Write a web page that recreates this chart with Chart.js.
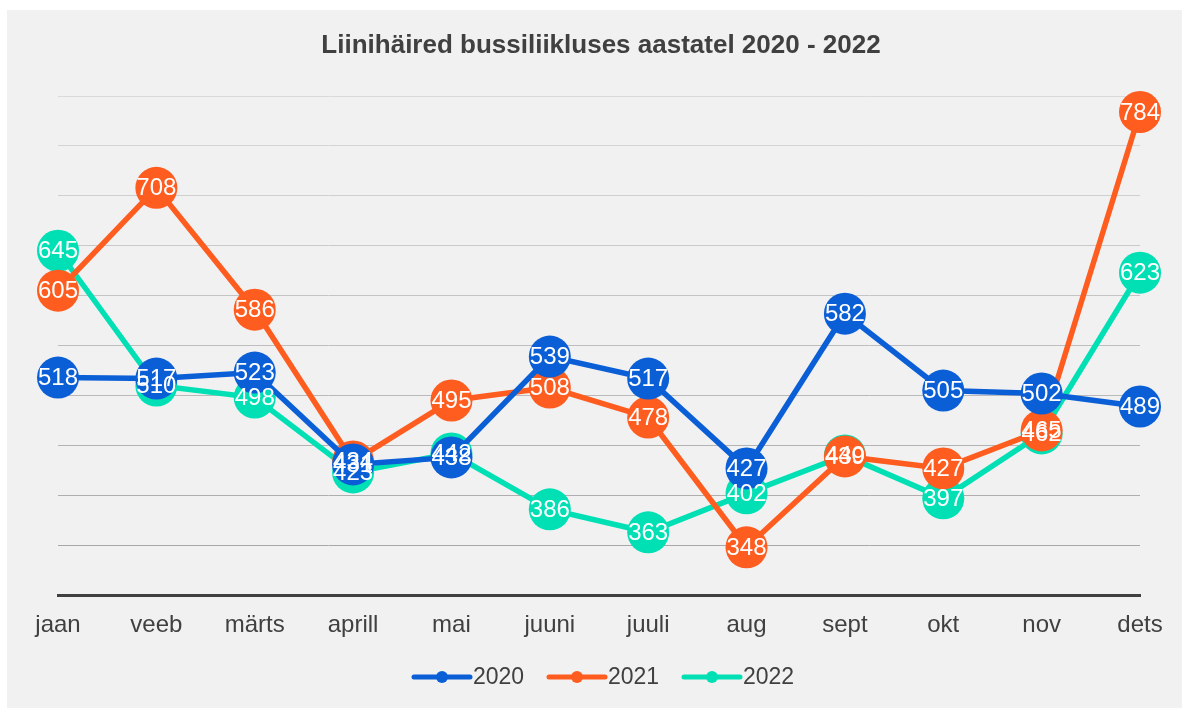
<!DOCTYPE html>
<html>
<head>
<meta charset="utf-8">
<script src="https://cdn.jsdelivr.net/npm/chart.js@4.4.0/dist/chart.umd.min.js"></script>
<style>
  html, body { margin: 0; padding: 0; background: #ffffff; width: 1182px; height: 708px; overflow: hidden; }
  #wrap { position: absolute; left: 7px; top: 10px; width: 1175px; height: 698px; background: #f1f1f1; }
  canvas { display: block; }
</style>
</head>
<body>
<div id="wrap"><canvas id="c" width="1175" height="698"></canvas></div>
<script>
const titleText = 'Liinihäired bussiliikluses aastatel 2020 - 2022';
const categories = ['jaan', 'veeb', 'märts', 'aprill', 'mai', 'juuni', 'juuli', 'aug', 'sept', 'okt', 'nov', 'dets'];
const seriesNames = ['2020', '2021', '2022'];
const values2020 = [518, 517, 523, 431, 438, 539, 517, 427, 582, 505, 502, 489];
const values2021 = [605, 708, 586, 434, 495, 508, 478, 348, 439, 427, 465, 784];
const values2022 = [645, 510, 498, 423, 442, 386, 363, 402, 440, 397, 462, 623];
const colors = ['#0b5fd6', '#ff5c1f', '#00e0b4'];
const FONT = '"Liberation Sans", Arial, sans-serif';
const TEXT = '#404040';

const seriesValues = [values2020, values2021, values2022];

const labelPlugin = {
  id: 'labels',
  afterDatasetsDraw(chart) {
    const ctx = chart.ctx;
    ctx.save();
    ctx.fillStyle = '#ffffff';
    ctx.font = '24px ' + FONT;
    ctx.textAlign = 'center';
    ctx.textBaseline = 'middle';
    chart.data.datasets.forEach((ds, i) => {
      const meta = chart.getDatasetMeta(i);
      meta.data.forEach((pt, j) => {
        ctx.fillText(String(ds.data[j]), pt.x, pt.y + 1);
      });
    });
    ctx.restore();
  }
};

const decoPlugin = {
  id: 'deco',
  afterDraw(chart) {
    const ctx = chart.ctx;
    ctx.save();
    ctx.fillStyle = TEXT;
    ctx.font = 'bold 26px ' + FONT;
    ctx.textAlign = 'center';
    ctx.textBaseline = 'middle';
    ctx.fillText(titleText, 594, 36);
    const legendX = [405, 540, 675];
    const ly = 667;
    ctx.font = '23px ' + FONT;
    ctx.textAlign = 'left';
    seriesNames.forEach((n, i) => {
      const x = legendX[i];
      ctx.strokeStyle = colors[i];
      ctx.lineWidth = 5;
      ctx.lineCap = 'round';
      ctx.beginPath();
      ctx.moveTo(x + 2, ly);
      ctx.lineTo(x + 58, ly);
      ctx.stroke();
      ctx.fillStyle = colors[i];
      ctx.beginPath();
      ctx.arc(x + 30, ly, 6, 0, Math.PI * 2);
      ctx.fill();
      ctx.fillStyle = TEXT;
      ctx.fillText(n, x + 61, ly + 1);
    });
    ctx.restore();
  }
};

function gridColor(c) {
  if (!c.tick || c.tick.value === 300) return 'rgba(0,0,0,0)';
  const t = (800 - c.tick.value) / 450;
  const g = Math.round(218 - t * 50);
  return 'rgb(' + g + ',' + g + ',' + g + ')';
}

new Chart(document.getElementById('c'), {
  type: 'line',
  data: {
    labels: categories,
    datasets: seriesNames.map((n, i) => ({
      label: n,
      data: seriesValues[i],
      borderColor: colors[i],
      backgroundColor: colors[i],
      pointBackgroundColor: colors[i],
      pointBorderWidth: 0,
      pointRadius: 21,
      pointHoverRadius: 21,
      borderWidth: 5.5,
      tension: 0,
      clip: false
    }))
  },
  options: {
    responsive: false,
    animation: false,
    events: [],
    layout: { padding: { left: 51, right: 42, top: 86, bottom: 52 } },
    plugins: { legend: { display: false }, title: { display: false }, tooltip: { enabled: false } },
    scales: {
      x: {
        offset: false,
        grid: { display: false, drawTicks: false },
        border: { display: true, color: '#404040', width: 3 },
        ticks: { color: TEXT, font: { size: 24, family: FONT }, padding: 16, maxRotation: 0, autoSkip: false }
      },
      y: {
        min: 300, max: 800,
        ticks: { display: false, stepSize: 50 },
        grid: { drawTicks: false, color: gridColor, lineWidth: 1 },
        border: { display: false }
      }
    }
  },
  plugins: [labelPlugin, decoPlugin]
});
</script>
</body>
</html>
